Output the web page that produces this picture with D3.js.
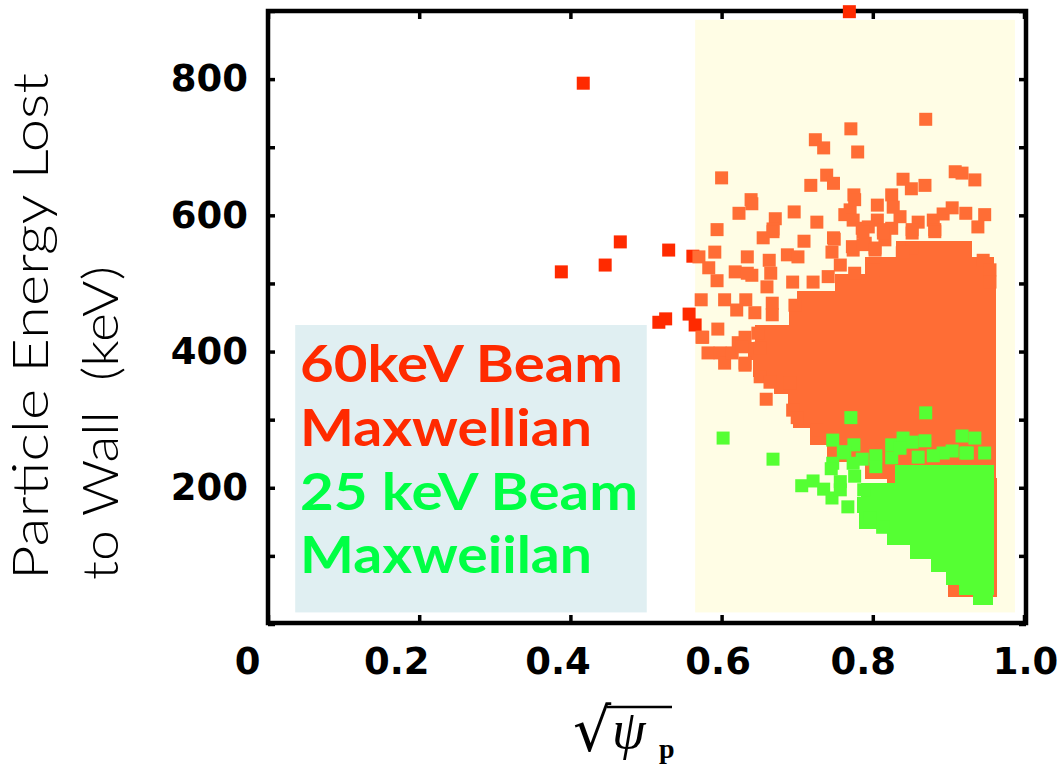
<!DOCTYPE html>
<html><head><meta charset="utf-8">
<script src="https://cdn.jsdelivr.net/npm/d3@7"></script>
<style>body{margin:0;background:#fff}svg text{white-space:pre}</style>
</head><body>
<svg id="chart" width="1057" height="767"></svg>
<script>
// ---------------- data ----------------
const xTicks = [0, 0.2, 0.4, 0.6, 0.8, 1.0];
const xTickLabels = ["0", "0.2", "0.4", "0.6", "0.8", "1.0"];
const yTicks = [0, 100, 200, 300, 400, 500, 600, 700, 800, 900];
const yTickLabels = [200, 400, 600, 800];
const yTitleLines = ["Particle Energy Lost", "to Wall  (keV)"];
const legendLines = ["60keV Beam", "Maxwellian", "25 keV Beam", "Maxweiilan"];

// shaded regions [xStart, xEnd, yLow, yHigh] in data units
const beamRegion = [0.565, 0.988, 17, 887];
const legendRegion = [0.036, 0.501, 17, 439];

// 60 keV beam (red) losses [sqrt(psi_p), keV]
const redPoints = [[0.417,794],[0.388,517],[0.446,527],[0.466,561],[0.530,549],[0.562,540],
  [0.526,448],[0.517,443],[0.557,455],[0.565,439],[0.769,899]];

// Maxwellian (orange) – dense core rows [yLow, yHigh, xStart, xEnd]
const orangeCore = [[538,562,0.832,0.930],[513,538,0.790,0.960],[488,513,0.750,0.962],
  [463,488,0.700,0.962],[438,463,0.690,0.962],[413,438,0.645,0.962],[388,413,0.635,0.962],
  [363,388,0.642,0.962],[338,363,0.670,0.962],[313,338,0.688,0.962],[288,313,0.695,0.962],
  [263,288,0.717,0.962],[238,263,0.740,0.962],[213,238,0.790,0.962],[188,213,0.820,0.963],
  [40,188,0.900,0.964]];
// Maxwellian (orange) – individual losses
const orangePoints = [[0.600,655],[0.724,711],[0.735,699],[0.771,727],[0.780,693],[0.870,741],
  [0.739,659],[0.748,647],[0.718,644],[0.840,653],[0.851,639],[0.869,644],[0.909,664],[0.918,662],
  [0.935,652],[0.639,623],[0.775,630],[0.825,630],
  [0.640,617],[0.623,603],[0.671,595],[0.696,605],[0.668,580],[0.594,579],[0.726,590],[0.655,567],
  [0.709,562],[0.591,546],[0.570,539],[0.583,523],[0.634,539],[0.618,517],[0.640,512],[0.663,534],
  [0.665,515],[0.660,495],[0.594,504],[0.573,476],[0.604,476],[0.632,476],[0.620,461],[0.644,457],
  [0.667,471],[0.595,433],[0.575,421],[0.582,398],[0.598,398],[0.604,383],[0.614,398],[0.622,413],
  [0.631,383],[0.659,330],[0.687,542],[0.701,539],[0.694,502],[0.721,502],[0.741,510],[0.749,565],
  [0.746,546],[0.770,608],[0.763,601],[0.774,593],[0.776,623],[0.806,615],[0.806,593],[0.827,612],
  [0.836,598],[0.860,590],[0.880,593],[0.893,602],[0.905,611],[0.923,603],[0.948,601],[0.939,583],
  [0.882,579],[0.852,579],[0.816,564],[0.803,552],[0.790,559],[0.774,549],[0.786,581],[0.794,583],
  [0.814,579],[0.825,581],[0.839,545],[0.852,552],[0.946,534],[0.955,520],[0.955,502],
  [0.668,576],[0.748,567],[0.787,576],[0.814,574],[0.852,574],[0.882,576],[0.773,554],[0.787,557],
  [0.803,549],[0.840,546],[0.634,515],[0.757,527],[0.776,515],[0.800,520],[0.697,468],[0.667,454],
  [0.648,427],[0.631,421],[0.627,407],[0.651,405],[0.631,380],[0.651,363],[0.664,355],[0.690,354],
  [0.694,314],[0.700,303],[0.726,285],[0.574,421]];

// 25 keV beam / Maxwellian (green) – dense core rows [yLow, yHigh, xStart, xEnd]
const greenCore = [[207,232,0.830,0.960],[185,207,0.785,0.960],[163,185,0.780,0.960],
  [140,163,0.783,0.960],[116,140,0.820,0.960],[96,116,0.850,0.960],[77,96,0.878,0.960],
  [58,77,0.897,0.960],[43,58,0.915,0.960],[28,43,0.933,0.958]];
// green individual losses
const greenPoints = [[0.602,273],[0.668,242],[0.771,303],[0.870,310],[0.747,270],[0.775,263],
  [0.825,263],[0.840,273],[0.852,267],[0.869,269],[0.918,276],[0.935,273],[0.923,251],[0.948,251],
  [0.905,254],[0.893,251],[0.880,247],[0.860,245],[0.804,247],[0.804,231],[0.786,242],[0.774,236],
  [0.763,251],[0.747,236],[0.745,228],[0.776,217],[0.757,209],[0.721,210],[0.706,203],[0.735,198],
  [0.746,185],[0.767,172],[0.788,197],[0.796,156],[0.813,142],[0.825,244],[0.836,258],[0.757,197],
  [0.761,253],[0.925,251]];

// ---------------- layout ----------------
const svg = d3.select("#chart");
const L = 268, R = 1026, T = 11, B = 623;
const x = d3.scaleLinear().domain([0, 1]).range([L, 1024]);
const y = d3.scaleLinear().domain([0, 900]).range([624, T]);
const sq = 13;
const xLabelNudge = [-21, -23, -13, -4, -10, 1];

const cRed = "#ff2a00", cOrange = "#ff6d35", cGreen = "#55ff33";

function region(r, fill) {
  svg.append("rect").attr("x", x(r[0])).attr("y", y(r[3]))
    .attr("width", x(r[1]) - x(r[0])).attr("height", y(r[2]) - y(r[3])).attr("fill", fill);
}
region(beamRegion, "#fffde5");
region(legendRegion, "#e0eff2");

// axes (inward ticks on all four sides)
const tickFont = "'DejaVu Sans', sans-serif";
const gB = svg.append("g").attr("transform", `translate(0,${B})`)
  .call(d3.axisBottom(x).tickValues(xTicks).tickSize(-8).tickPadding(25)
    .tickFormat((d, i) => xTickLabels[i]));
gB.selectAll("text").attr("dx", (d, i) => xLabelNudge[i]);
const gT = svg.append("g").attr("transform", `translate(0,${T})`)
  .call(d3.axisTop(x).tickValues(xTicks).tickSize(-8).tickFormat(""));
const gL = svg.append("g").attr("transform", `translate(${L},0)`)
  .call(d3.axisLeft(y).tickValues(yTicks).tickSize(-7).tickPadding(20)
    .tickFormat(d => yTickLabels.includes(d) ? String(d) : ""));
const gR = svg.append("g").attr("transform", `translate(${R},0)`)
  .call(d3.axisRight(y).tickValues(yTicks).tickSize(-7).tickFormat(""));
[gB, gT, gL, gR].forEach(g => {
  g.select(".domain").remove();
  g.selectAll(".tick line").attr("stroke", "#000").attr("stroke-width", 3.5);
  g.selectAll("text").attr("fill", "#000").attr("font-family", tickFont)
    .attr("font-weight", "bold").attr("font-size", 37);
});
svg.append("rect").attr("x", L).attr("y", T).attr("width", R - L).attr("height", B - T)
  .attr("fill", "none").attr("stroke", "#000").attr("stroke-width", 4.5);

// points
function points(data, fill) {
  svg.append("g").selectAll("rect").data(data).join("rect")
    .attr("x", d => x(d[0]) - sq / 2).attr("y", d => y(d[1]) - sq / 2)
    .attr("width", sq).attr("height", sq).attr("fill", fill);
}
function core(data, fill) {
  svg.append("g").attr("shape-rendering", "crispEdges")
    .selectAll("rect").data(data).join("rect")
    .attr("x", d => x(d[2])).attr("y", d => y(d[1]))
    .attr("width", d => x(d[3]) - x(d[2])).attr("height", d => y(d[0]) - y(d[1]))
    .attr("fill", fill).attr("stroke", fill).attr("stroke-width", 1);
}
points(redPoints, cRed);
core(orangeCore, cOrange);
points(orangePoints, cOrange);
core(greenCore, cGreen);
points(greenPoints, cGreen);

// legend text
const legendY = [382, 446, 510, 573];
const legendW = [323, 292, 338, 292];
const legendC = ["#ff2a00", "#ff2a00", "#00ff44", "#00ff44"];
svg.append("g").selectAll("text").data(legendLines).join("text")
  .attr("x", 300).attr("y", (d, i) => legendY[i])
  .attr("textLength", (d, i) => legendW[i]).attr("lengthAdjust", "spacingAndGlyphs")
  .attr("font-family", "Lato, 'DejaVu Sans', sans-serif").attr("font-weight", "bold")
  .attr("font-size", 52).attr("fill", (d, i) => legendC[i]).text(d => d);

// y title
const yTitleX = [48, 118], yTitleLen = [507, 314];
svg.append("g").selectAll("text").data(yTitleLines).join("text")
  .attr("transform", (d, i) => `translate(${yTitleX[i]},580) rotate(-90)`)
  .attr("textLength", (d, i) => yTitleLen[i]).attr("lengthAdjust", "spacingAndGlyphs")
  .attr("font-family", "Lato, 'Open Sans', sans-serif").attr("font-weight", 300)
  .attr("font-size", 50).attr("fill", "#000").text(d => d);

// x title: sqrt(psi_p)
const xt = svg.append("g");
xt.append("text").attr("x", 573).attr("y", 751).attr("font-family", "'DejaVu Serif', serif")
  .attr("font-size", 60).text("√");
xt.append("line").attr("x1", 607).attr("x2", 672).attr("y1", 707).attr("y2", 707)
  .attr("stroke", "#000").attr("stroke-width", 2.5);
xt.append("text").attr("x", 612).attr("y", 748).attr("font-family", "'Liberation Serif', serif")
  .attr("font-style", "italic").attr("font-size", 54).text("ψ");
xt.append("text").attr("x", 659).attr("y", 758).attr("font-family", "'Liberation Serif', serif")
  .attr("font-weight", "bold").attr("font-size", 28).text("p");
</script>
</body></html>
